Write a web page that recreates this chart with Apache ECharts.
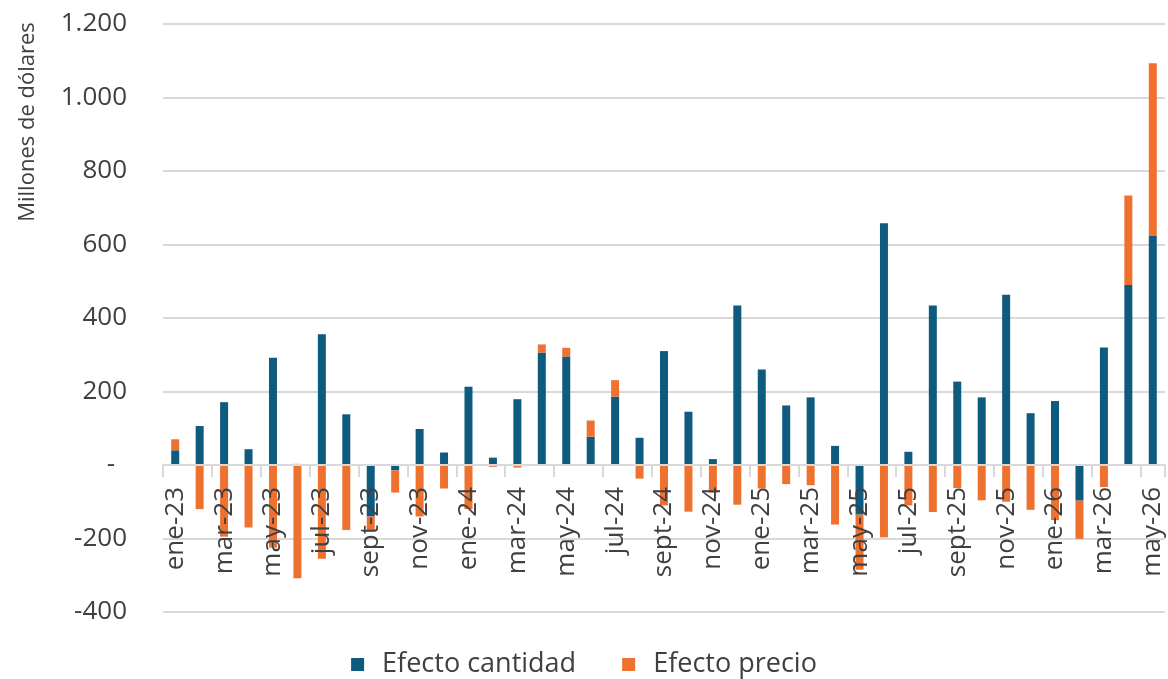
<!DOCTYPE html>
<html>
<head>
<meta charset="utf-8">
<script src="https://cdn.jsdelivr.net/npm/echarts@6/dist/echarts.min.js"></script>
<style>
html,body{margin:0;padding:0;background:#fff;}
#chart{width:1168px;height:679px;}
</style>
</head>
<body>
<div id="chart"></div>
<script>
const categories = [
  'ene-23','feb-23','mar-23','abr-23','may-23','jun-23','jul-23','ago-23','sept-23','oct-23','nov-23','dic-23',
  'ene-24','feb-24','mar-24','abr-24','may-24','jun-24','jul-24','ago-24','sept-24','oct-24','nov-24','dic-24',
  'ene-25','feb-25','mar-25','abr-25','may-25','jun-25','jul-25','ago-25','sept-25','oct-25','nov-25','dic-25',
  'ene-26','feb-26','mar-26','abr-26','may-26'
];
const efectoCantidad = [
  40, 106, 171, 43, 292, 3, 356, 138, -140, -15, 98, 34,
  213, 20, 179, 306, 295, 77, 186, 74, 310, 145, 16, 434,
  260, 162, 184, 52, -135, 658, 36, 434, 227, 184, 463, 141,
  174, -97, 320, 490, 623
];
const efectoPrecio = [
  30, -120, -195, -170, -225, -308, -255, -177, -40, -60, -140, -64,
  -120, -5, -7, 22, 24, 44, 45, -37, -110, -127, -75, -108,
  -64, -52, -55, -162, -150, -197, -110, -128, -63, -96, -100, -122,
  -150, -104, -60, 243, 470
];
const yTicks = { min: -400, max: 1200, interval: 200 };

const W = 1168, H = 679;
const GRID = { left: 163, right: 3, top: 24, bottom: 67 };
const plotH = H - GRID.top - GRID.bottom;
// move the category axis (line, ticks, labels) from the grid bottom up to the zero line
const zeroOffset = -plotH * (0 - yTicks.min) / (yTicks.max - yTicks.min);

const FONT = '"Open Sans", "Noto Sans", sans-serif';
const TXT = '#404040';
const chart = echarts.init(document.getElementById('chart'));
chart.setOption({
  animation: false,
  backgroundColor: '#ffffff',
  grid: Object.assign({ containLabel: false, outerBoundsMode: 'none' }, GRID),
  legend: {
    data: ['Efecto cantidad', 'Efecto precio'],
    left: 'center',
    top: 646,
    icon: 'rect',
    itemWidth: 13,
    itemHeight: 13,
    itemGap: 46,
    textStyle: { color: TXT, fontSize: 27, fontFamily: FONT, padding: [0, 0, 0, 13] }
  },
  graphic: [{
    type: 'text',
    x: 28,
    y: 122,
    rotation: Math.PI / 2,
    style: {
      text: 'Millones de dólares',
      fill: TXT,
      fontSize: 22,
      fontFamily: FONT,
      align: 'center',
      verticalAlign: 'middle'
    }
  }],
  xAxis: {
    type: 'category',
    data: categories,
    position: 'bottom',
    offset: zeroOffset,
    z: 5,
    axisLine: { onZero: false, lineStyle: { color: '#d9d9d9', width: 2 } },
    axisTick: { show: true, interval: 1, alignWithLabel: false, length: 12, lineStyle: { color: '#d9d9d9', width: 2 } },
    axisLabel: { interval: 1, rotate: 90, margin: 22, color: TXT, fontSize: 26, fontFamily: FONT },
    splitLine: { show: false }
  },
  yAxis: {
    type: 'value',
    min: yTicks.min,
    max: yTicks.max,
    interval: yTicks.interval,
    axisLine: { show: false },
    axisTick: { show: false },
    splitLine: { lineStyle: { color: '#d9d9d9', width: 2 } },
    axisLabel: {
      margin: 36,
      color: TXT,
      fontSize: 26,
      fontFamily: FONT,
      formatter: function (v) {
        if (v === 0) return '{z|-}';
        const s = Math.abs(v).toString().replace(/\B(?=(\d{3})+(?!\d))/g, '.');
        return (v < 0 ? '-' : '') + s;
      },
      rich: { z: { color: TXT, fontSize: 26, fontFamily: FONT, padding: [0, 12, 0, 0] } }
    }
  },
  series: [
    {
      name: 'Efecto cantidad',
      type: 'bar',
      stack: 'total',
      barWidth: 8,
      itemStyle: { color: '#0F5A7F' },
      data: efectoCantidad
    },
    {
      name: 'Efecto precio',
      type: 'bar',
      stack: 'total',
      barWidth: 8,
      itemStyle: { color: '#EE7130' },
      data: efectoPrecio
    }
  ]
});
</script>
</body>
</html>
